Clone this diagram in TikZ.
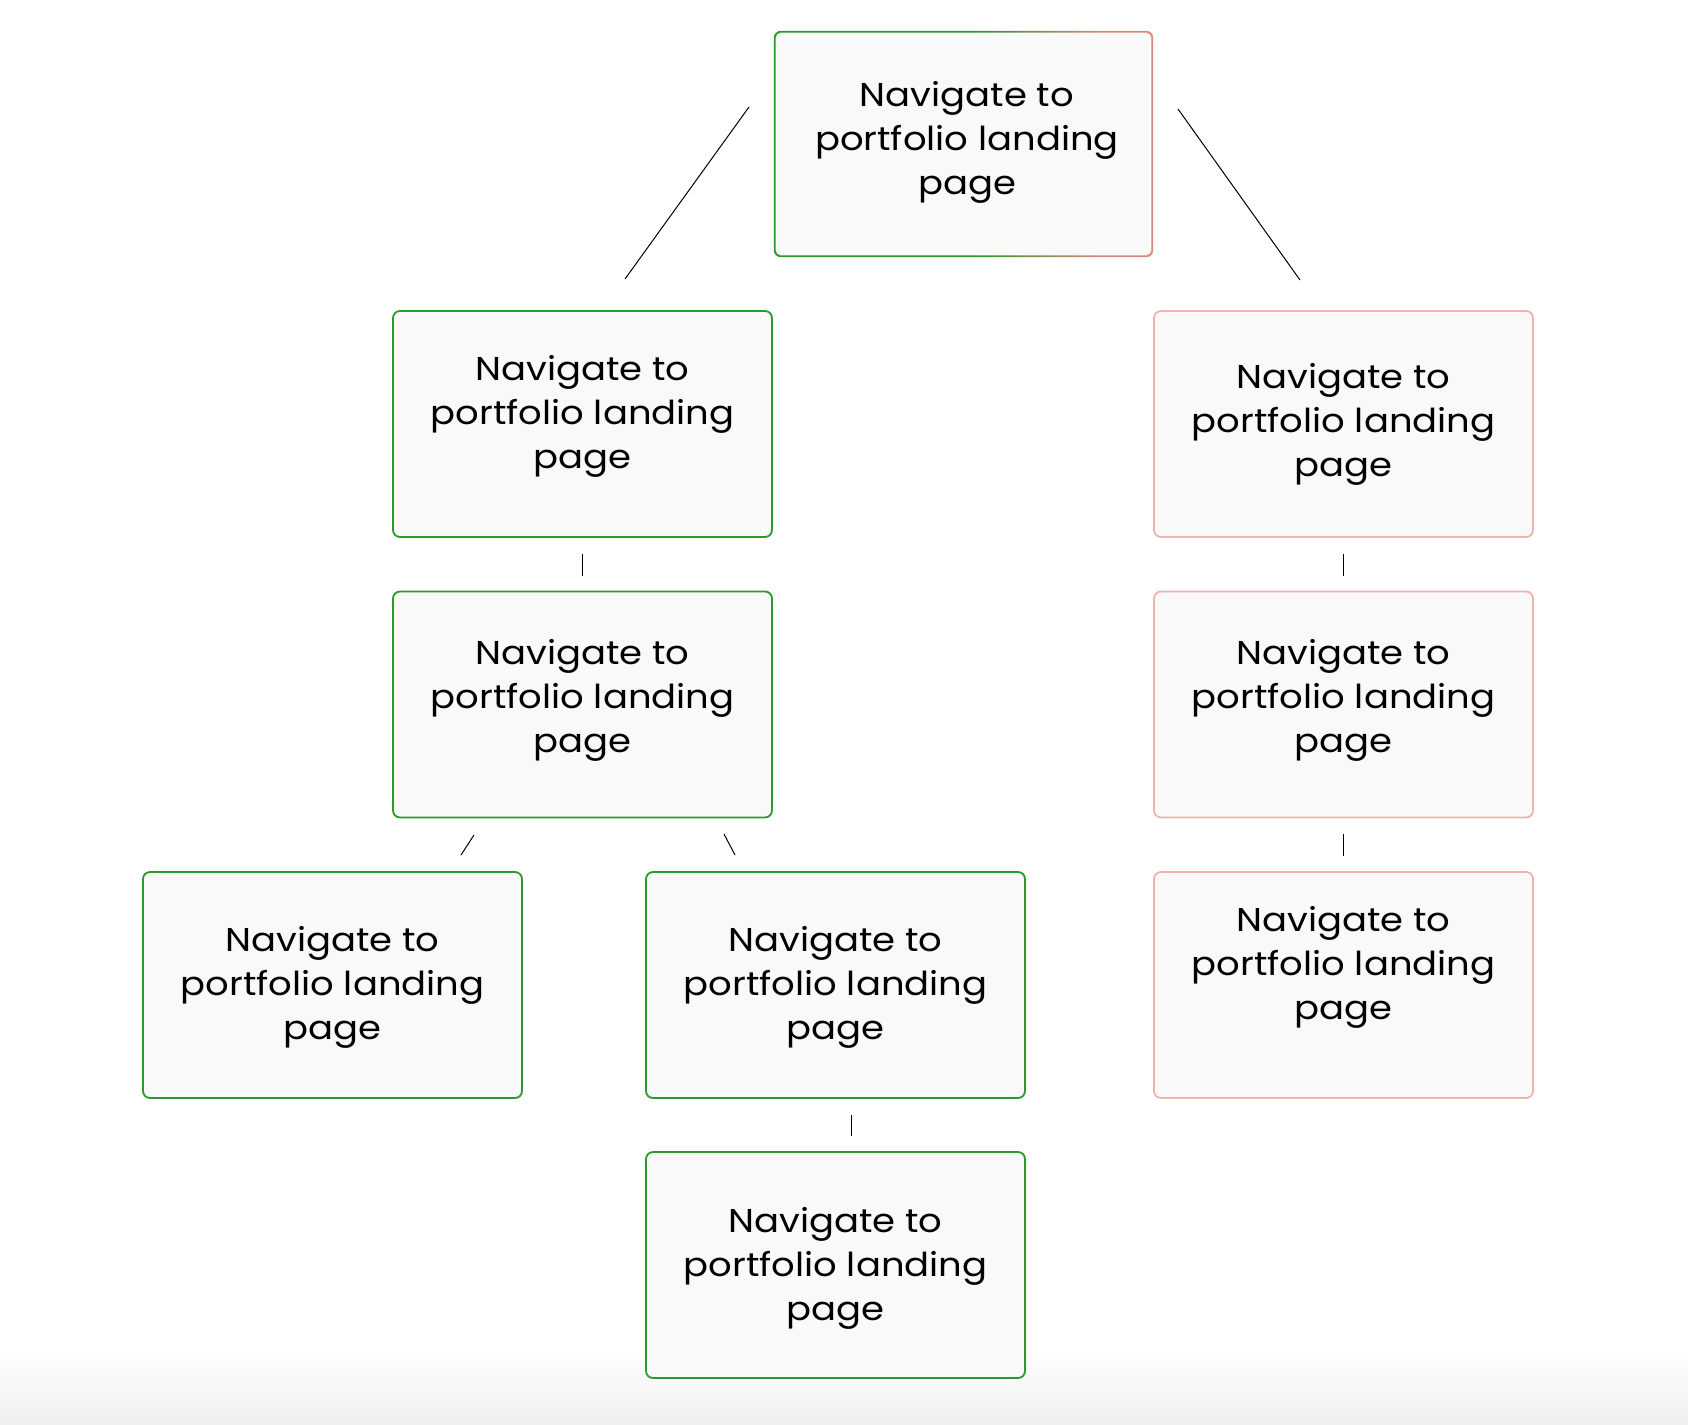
\documentclass[tikz,border=0pt]{standalone}
\usepackage{fontspec}
\setmainfont{Poppins}[FakeStretch=1.12]
\usetikzlibrary{calc}
\definecolor{cgreen}{HTML}{2A9A2A}
\definecolor{cpink}{HTML}{F4B0B0}
\definecolor{csalmon}{HTML}{D9887A}
\definecolor{boxfill}{HTML}{F9F9F9}
\pgfdeclarehorizontalshading{topborder}{100bp}{color(0bp)=(cgreen); color(52bp)=(cgreen); color(68bp)=(csalmon); color(100bp)=(csalmon)}
\tikzset{
  boxbase/.style={rectangle, rounded corners=7pt, minimum width=379pt, minimum height=226pt, fill=boxfill, line width=1.8pt, inner sep=0pt},
  gbox/.style={boxbase, draw=cgreen},
  pbox/.style={boxbase, draw=cpink},
  txt/.style={align=center, font=\fontsize{33pt}{44pt}\selectfont, text=black, inner sep=0pt},
  conn/.style={draw=black, line width=1pt},
}
\begin{document}
\begin{tikzpicture}[x=1pt,y=-1pt]
\useasboundingbox (0,0) rectangle (1688,1424);
\fill[white] (0,0) rectangle (1688,1424);
\shade[top color=white, bottom color=black!6] (0,1350) rectangle (1688,1424);
% top box with gradient border
\node[rectangle, minimum width=379pt, minimum height=226pt, inner sep=0pt] (top) at (963.5,144) {};
\shade[shading=topborder, rounded corners=7pt] (top.north west) rectangle (top.south east);
\fill[boxfill, rounded corners=5.5pt] ($(top.north west)+(1.8,1.8)$) rectangle ($(top.south east)+(-1.8,-1.8)$);
\node[txt] (topt) at (967,142) {Navigate to\\portfolio landing\\page};
% left branch
\node[gbox] (l1) at (582.5,424) {};
\node[txt] (l1t) at (582.5,416) {Navigate to\\portfolio landing\\page};
\node[gbox] (l2) at (582.5,704.5) {};
\node[txt] (l2t) at (582.5,700.5) {Navigate to\\portfolio landing\\page};
\node[gbox] (l3a) at (332.5,985) {};
\node[txt] (l3at) at (332.5,987) {Navigate to\\portfolio landing\\page};
\node[gbox] (l3b) at (835.5,985) {};
\node[txt] (l3bt) at (835.5,987) {Navigate to\\portfolio landing\\page};
\node[gbox] (l4) at (835.5,1265) {};
\node[txt] (l4t) at (835.5,1268) {Navigate to\\portfolio landing\\page};
% right branch
\node[pbox] (r1) at (1343.5,424) {};
\node[txt] (r1t) at (1343.5,424) {Navigate to\\portfolio landing\\page};
\node[pbox] (r2) at (1343.5,704.5) {};
\node[txt] (r2t) at (1343.5,700.5) {Navigate to\\portfolio landing\\page};
\node[pbox] (r3) at (1343.5,985) {};
\node[txt] (r3t) at (1343.5,967) {Navigate to\\portfolio landing\\page};
% connector end points
\coordinate (ta) at (749,107); \coordinate (tb) at (625,279);
\coordinate (tc) at (1178,109); \coordinate (td) at (1300,280);
\coordinate (la) at (474,835); \coordinate (lb) at (461,855);
\coordinate (lc) at (724,834); \coordinate (ld) at (735,855);
\draw[conn] (ta) -- (tb);
\draw[conn] (tc) -- (td);
\draw[conn] (la) -- (lb);
\draw[conn] (lc) -- (ld);
\draw[conn, shorten <=16pt, shorten >=15pt] (l1.south) -- (l2.north);
\draw[conn, shorten <=16pt, shorten >=15pt] (r1.south) -- (r2.north);
\draw[conn, shorten <=16pt, shorten >=15pt] (r2.south) -- (r3.north);
\draw[conn, shorten <=16pt, shorten >=15pt] ($(l3b.south)+(15.5,0)$) -- ($(l4.north)+(15.5,0)$);
\end{tikzpicture}
\end{document}
